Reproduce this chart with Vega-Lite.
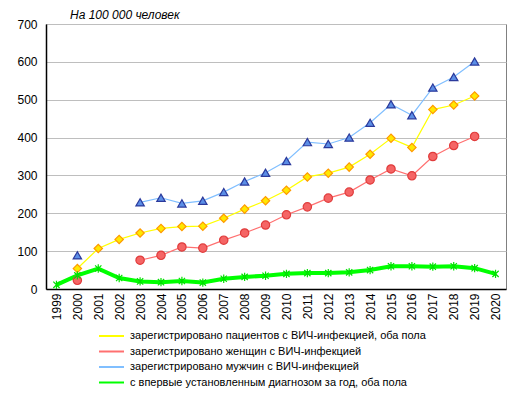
{
  "$schema": "https://vega.github.io/schema/vega-lite/v6.json",
  "autosize": {"type": "none"},
  "padding": {"left": 46, "top": 24, "right": 15, "bottom": 107},
  "width": 460,
  "height": 265,
  "config": {
    "view": {"stroke": "#808080", "strokeWidth": 1},
    "font": "Liberation Sans"
  },
  "title": {
    "text": "На 100 000 человек",
    "anchor": "start",
    "frame": "group",
    "dx": 24,
    "offset": -4,
    "fontSize": 12,
    "fontStyle": "italic",
    "fontWeight": "normal",
    "color": "#000000"
  },
  "data": {
    "values": [
      {"year": "1999", "a": null, "b": null, "c": null, "d": 11},
      {"year": "2000", "a": 54, "b": 23, "c": 89, "d": 36},
      {"year": "2001", "a": 107, "b": null, "c": null, "d": 54},
      {"year": "2002", "a": 131, "b": null, "c": null, "d": 29},
      {"year": "2003", "a": 148, "b": 76, "c": 229, "d": 20},
      {"year": "2004", "a": 160, "b": 89, "c": 241, "d": 18},
      {"year": "2005", "a": 165, "b": 111, "c": 226, "d": 21},
      {"year": "2006", "a": 166, "b": 108, "c": 233, "d": 17},
      {"year": "2007", "a": 187, "b": 129, "c": 256, "d": 27},
      {"year": "2008", "a": 211, "b": 148, "c": 284, "d": 32},
      {"year": "2009", "a": 233, "b": 169, "c": 307, "d": 35},
      {"year": "2010", "a": 261, "b": 196, "c": 338, "d": 40},
      {"year": "2011", "a": 296, "b": 217, "c": 388, "d": 42},
      {"year": "2012", "a": 306, "b": 240, "c": 383, "d": 42},
      {"year": "2013", "a": 322, "b": 256, "c": 400, "d": 44},
      {"year": "2014", "a": 356, "b": 288, "c": 439, "d": 50},
      {"year": "2015", "a": 398, "b": 317, "c": 488, "d": 60},
      {"year": "2016", "a": 374, "b": 299, "c": 459, "d": 60},
      {"year": "2017", "a": 474, "b": 350, "c": 532, "d": 59},
      {"year": "2018", "a": 486, "b": 379, "c": 560, "d": 60},
      {"year": "2019", "a": 510, "b": 403, "c": 601, "d": 55},
      {"year": "2020", "a": null, "b": null, "c": null, "d": 40}
    ]
  },
  "transform": [
    {"fold": ["a", "b", "c", "d"], "as": ["key", "value"]},
    {"lookup": "key", "from": {"data": {"values": [
      {"key": "a", "series": "зарегистрировано пациентов с ВИЧ-инфекцией,  оба пола"},
      {"key": "b", "series": "зарегистрировано женщин  с ВИЧ-инфекцией"},
      {"key": "c", "series": "зарегистрировано мужчин с ВИЧ-инфекцией"},
      {"key": "d", "series": "с впервые установленным диагнозом за год, оба пола"}
    ]}, "key": "key", "fields": ["series"]}}
  ],
  "encoding": {
    "x": {
      "field": "year",
      "type": "ordinal",
      "scale": {"type": "point", "padding": 0.5},
      "axis": {
        "title": null,
        "labelAngle": -90,
        "labelFontSize": 12,
        "labelColor": "#000000",
        "labelPadding": 4,
        "ticks": false,
        "domainColor": "#000000",
        "domainWidth": 1.5,
        "grid": false
      }
    },
    "y": {
      "field": "value",
      "type": "quantitative",
      "scale": {"domain": [0, 700], "nice": false},
      "axis": {
        "title": null,
        "values": [0, 100, 200, 300, 400, 500, 600, 700],
        "labelFontSize": 12,
        "labelColor": "#000000",
        "labelPadding": 9,
        "ticks": false,
        "domainColor": "#000000",
        "domainWidth": 1.5,
        "gridColor": "#BEBEBE",
        "gridWidth": 1
      }
    }
  },
  "layer": [
    {
      "transform": [{"filter": "datum.key !== 'd'"}],
      "mark": {"type": "line", "invalid": "break-paths-show-domains", "strokeWidth": 1.2},
      "encoding": {
        "color": {
          "field": "series",
          "type": "nominal",
          "sort": null,
          "scale": {
            "domain": [
              "зарегистрировано пациентов с ВИЧ-инфекцией,  оба пола",
              "зарегистрировано женщин  с ВИЧ-инфекцией",
              "зарегистрировано мужчин с ВИЧ-инфекцией",
              "с впервые установленным диагнозом за год, оба пола"
            ],
            "range": ["#FFFF00", "#FF7070", "#80BFFF", "#00FF00"]
          },
          "legend": {
            "orient": "none",
            "legendX": 59.5,
            "legendY": 306,
            "title": null,
            "symbolType": "M-2.5,0L2.5,0",
            "symbolSize": 100,
            "symbolStrokeWidth": 2,
            "labelFontSize": 11,
            "labelColor": "#000000",
            "labelLimit": 400,
            "rowPadding": 4.5,
            "labelOffset": 12.5
          }
        }
      }
    },
    {
      "transform": [{"filter": "datum.key === 'd'"}],
      "mark": {"type": "line", "invalid": "break-paths-show-domains", "strokeWidth": 4},
      "encoding": {
        "color": {"field": "series", "type": "nominal", "sort": null}
      }
    },
    {
      "mark": {"type": "point", "filled": true, "opacity": 1, "strokeWidth": 1.2, "size": 70},
      "encoding": {
        "shape": {
          "field": "key",
          "type": "nominal",
          "scale": {
            "domain": ["a", "b", "c", "d"],
            "range": ["diamond", "circle", "triangle-up", "M-0.75,-0.75L0.75,0.75M-0.75,0.75L0.75,-0.75M0,-1L0,1"]
          },
          "legend": null
        },
        "fill": {
          "field": "key",
          "type": "nominal",
          "scale": {"domain": ["a", "b", "c", "d"], "range": ["#FFE800", "#F56565", "#5B8EE6", "#00FF00"]},
          "legend": null
        },
        "stroke": {
          "field": "key",
          "type": "nominal",
          "scale": {"domain": ["a", "b", "c", "d"], "range": ["#FF9900", "#E03C3C", "#2B3A9C", "#00E000"]},
          "legend": null
        }
      }
    }
  ]
}
